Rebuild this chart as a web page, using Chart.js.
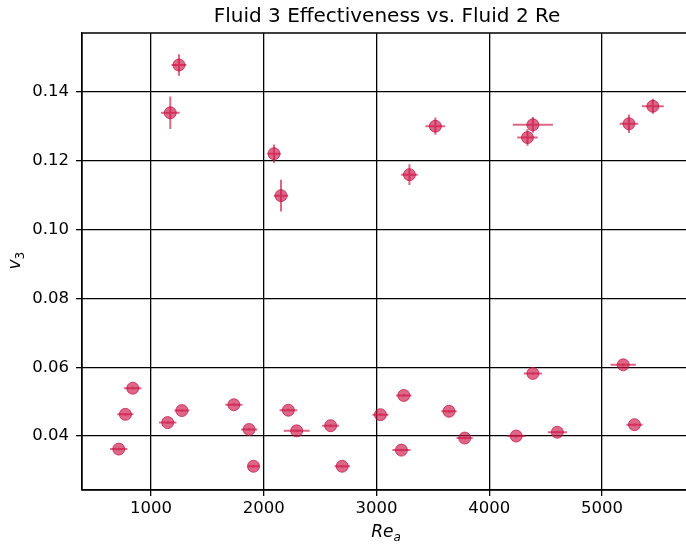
<!DOCTYPE html>
<html>
<head>
<meta charset="utf-8">
<script src="https://cdn.jsdelivr.net/npm/chart.js@4.4.1/dist/chart.umd.min.js"></script>
<style>
  html, body { margin: 0; padding: 0; background: #fff; }
  #wrap { width: 686px; height: 545px; }
</style>
</head>
<body>
<div id="wrap"><canvas id="myChart"></canvas></div>
<script>
// data
const reValues = [1248, 1171, 2091, 2153, 3522, 3292, 4387, 4339, 5239, 5451,
  838, 773, 714, 1148, 1274, 1735, 1870, 1909, 2218, 2292, 2593, 2696,
  3035, 3242, 3221, 3643, 3782, 4239, 4387, 4604, 5188, 5288];
const effValues = [0.1479, 0.134, 0.1221, 0.1099, 0.1301, 0.116, 0.1305, 0.1268, 0.1308, 0.1359,
  0.0539, 0.0463, 0.0362, 0.0439, 0.0474, 0.0491, 0.0419, 0.0312, 0.0475, 0.0415, 0.043, 0.0312,
  0.0462, 0.0518, 0.0359, 0.0472, 0.0394, 0.040, 0.0582, 0.0411, 0.0607, 0.0433];
const reErr = [66, 83, 59, 63, 88, 74, 178, 91, 83, 97,
  77, 71, 77, 77, 66, 75, 72, 52, 78, 115, 75, 68,
  71, 68, 80, 68, 72, 81, 80, 85, 112, 72];
const effErr = [0.0031, 0.0047, 0.0027, 0.0046, 0.0025, 0.003, 0.0023, 0.0024, 0.0027, 0.0022,
  0.0004, 0.0004, 0.0004, 0.0004, 0.0004, 0.0004, 0.0004, 0.0004, 0.0004, 0.0004, 0.0004, 0.0004,
  0.0004, 0.0004, 0.0004, 0.0004, 0.0004, 0.0004, 0.0004, 0.0004, 0.0004, 0.0004];
const xTicks = [1000, 2000, 3000, 4000, 5000];
const yTicks = [0.04, 0.06, 0.08, 0.10, 0.12, 0.14];
const titleText = "Fluid 3 Effectiveness vs. Fluid 2 Re";

const pointColor = "rgba(205, 20, 70, 0.65)";
const font = "'DejaVu Sans', sans-serif";

// error bars drawn through the chart scales
const errorBars = {
  id: "errorBars",
  beforeDatasetsDraw(chart) {
    const { ctx, scales: { x, y }, chartArea } = chart;
    ctx.save();
    ctx.beginPath();
    ctx.rect(chartArea.left, chartArea.top, chartArea.width, chartArea.height);
    ctx.clip();
    ctx.strokeStyle = pointColor;
    ctx.lineWidth = 2;
    reValues.forEach((re, i) => {
      const px = x.getPixelForValue(re);
      const py = y.getPixelForValue(effValues[i]);
      ctx.beginPath();
      ctx.moveTo(x.getPixelForValue(re - reErr[i]), py);
      ctx.lineTo(x.getPixelForValue(re + reErr[i]), py);
      ctx.moveTo(px, y.getPixelForValue(effValues[i] - effErr[i]));
      ctx.lineTo(px, y.getPixelForValue(effValues[i] + effErr[i]));
      ctx.stroke();
    });
    ctx.restore();
  },
};

// frame, title and axis labels with subscripts
const frameLabels = {
  id: "frameLabels",
  afterDraw(chart) {
    const { ctx, chartArea: { left, top, right, bottom } } = chart;
    ctx.save();
    ctx.strokeStyle = "#000";
    ctx.lineWidth = 1.3;
    ctx.beginPath();
    ctx.moveTo(left, top);
    ctx.lineTo(right, top);
    ctx.moveTo(left, top);
    ctx.lineTo(left, bottom);
    ctx.lineTo(right, bottom);
    ctx.stroke();

    ctx.fillStyle = "#000";
    // title centred over the axes
    ctx.font = "20px " + font;
    ctx.textAlign = "center";
    ctx.textBaseline = "middle";
    ctx.fillText(titleText, (left + right) / 2 + 3, 17);

    ctx.textBaseline = "alphabetic";
    // x label Re_a
    ctx.font = "italic 17px " + font;
    const w1 = ctx.measureText("Re").width;
    ctx.font = "italic 12px " + font;
    const w2 = ctx.measureText("a").width;
    const cx = (left + right) / 2 - (w1 + w2) / 2 + 2;
    ctx.font = "italic 17px " + font;
    ctx.textAlign = "left";
    ctx.fillText("Re", cx, 537);
    ctx.font = "italic 12px " + font;
    ctx.fillText("a", cx + w1, 541);

    // y label v_3
    ctx.translate(20, (top + bottom) / 2);
    ctx.rotate(-Math.PI / 2);
    ctx.font = "italic 17px " + font;
    ctx.fillText("v", -8, 0);
    ctx.font = "12px " + font;
    ctx.fillText("3", 2, 4);
    ctx.restore();
  },
};

const config = {
  type: "scatter",
  data: {
    datasets: [
      {
        data: reValues.map((re, i) => ({ x: re, y: effValues[i] })),
        backgroundColor: pointColor,
        borderColor: "rgba(190, 15, 65, 0.7)",
        borderWidth: 1,
        pointRadius: 6,
        pointHoverRadius: 6,
      },
    ],
  },
  plugins: [errorBars, frameLabels],
  options: {
    responsive: true,
    maintainAspectRatio: false,
    animation: false,
    layout: { autoPadding: false, padding: { top: 33, right: 0, left: 0, bottom: 0 } },
    plugins: {
      legend: { display: false },
      tooltip: { enabled: false },
      title: { display: false },
    },
    scales: {
      x: {
        type: "linear",
        min: 388,
        max: 5745,
        afterBuildTicks: (scale) => {
          scale.ticks = xTicks.map((v) => ({ value: v }));
        },
        afterFit: (scale) => {
          scale.height = 55;
        },
        ticks: {
          color: "#000",
          font: { family: font, size: 16.5 },
          padding: 3,
          maxRotation: 0,
          callback: (v) => String(v),
        },
        grid: { color: "#000", lineWidth: 1.3, tickLength: 6, drawTicks: true },
        border: { color: "#000", width: 1.3 },
      },
      y: {
        type: "linear",
        min: 0.0243,
        max: 0.1572,
        afterBuildTicks: (scale) => {
          scale.ticks = yTicks.map((v) => ({ value: v }));
        },
        afterFit: (scale) => {
          scale.width = 82;
        },
        ticks: {
          color: "#000",
          font: { family: font, size: 16.5 },
          padding: 7,
          callback: (v) => v.toFixed(2),
        },
        grid: { color: "#000", lineWidth: 1.3, tickLength: 6, drawTicks: true },
        border: { color: "#000", width: 1.3 },
      },
    },
  },
};

const myChart = new Chart(document.getElementById("myChart"), config);
</script>
</body>
</html>
